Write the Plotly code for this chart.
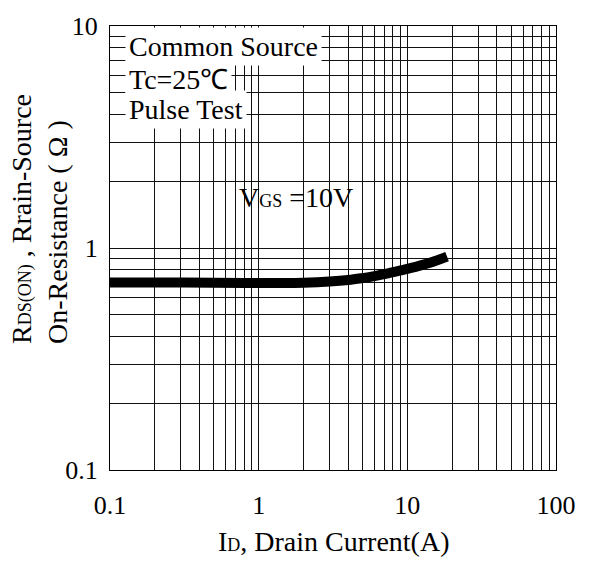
import plotly.graph_objects as go

# Data (ID in A, RDS(ON) in ohm)
drain_current = [0.1, 0.2, 0.5, 1.0, 2.0, 3.0, 4.0, 5.0, 6.0, 7.6, 9.0, 11.0, 14.0, 18.5]
on_resistance = [0.700, 0.700, 0.697, 0.695, 0.698, 0.706, 0.717, 0.732, 0.747, 0.772, 0.792, 0.818, 0.855, 0.915]

x_tick_vals = [0.1, 1, 10, 100]
x_tick_text = ["0.1", "1", "10", "100"]
y_tick_vals = [0.1, 1, 10]
y_tick_text = ["0.1", "1", "10"]

FONT = "Liberation Serif, Times New Roman, serif"
GRID = "#111111"

fig = go.Figure()
fig.add_trace(go.Scatter(
    x=drain_current, y=on_resistance, mode="lines",
    line=dict(color="black", width=10, shape="spline"),
    showlegend=False, hoverinfo="skip",
))

axis_common = dict(
    type="log", showline=True, linecolor="black", linewidth=1, mirror=True,
    showgrid=True, gridcolor=GRID, gridwidth=1, zeroline=False,
    ticks="", tickfont=dict(family=FONT, size=26, color="black"),
    minor=dict(dtick="D1", showgrid=True, gridcolor=GRID, gridwidth=1, ticks=""),
)

fig.update_xaxes(range=[-1, 2], tickvals=x_tick_vals, ticktext=x_tick_text,
                 ticklabelstandoff=12, **axis_common)
fig.update_yaxes(range=[-1, 1], tickvals=y_tick_vals, ticktext=y_tick_text,
                 ticklabelstandoff=6, **axis_common)

ann_font = dict(family=FONT, size=28, color="black")
sub = "<span style='font-size:18px'>{}</span>"
box = dict(x=0, y=1, xref="paper", yref="paper", xanchor="left", yanchor="middle",
           xshift=15, bgcolor="white", borderpad=3, showarrow=False, font=ann_font)
annotations = [
    dict(text="Common Source", yshift=-20, **box),
    dict(text="Tc=25℃", yshift=-53, **box),
    dict(text="Pulse Test", yshift=-83, **box),
    dict(text="V" + sub.format("GS") + " =10V", x=(296 - 110) / 446, y=(470 - 193) / 451,
         xref="paper", yref="paper", showarrow=False, font=ann_font,
         xanchor="center", yanchor="middle"),
    dict(text="I" + sub.format("D") + ", Drain Current(A)",
         x=0.5, y=0, xref="paper", yref="paper", xanchor="center",
         yanchor="middle", yshift=-71, showarrow=False, font=ann_font),
    dict(text="R" + sub.format("DS(ON)") + " , Rrain-Source<br>On-Resistance ( Ω )",
         x=0, y=(470 - 344) / 451, xref="paper", yref="paper", textangle=-90,
         align="left", xanchor="center", yanchor="bottom", xshift=-70,
         showarrow=False, font=ann_font),
]

fig.update_layout(
    width=594, height=563,
    margin=dict(l=110, r=38, t=19, b=93),
    paper_bgcolor="white", plot_bgcolor="white",
    font=dict(family=FONT, color="black"),
    annotations=annotations,
)

fig.write_html("out.html")
